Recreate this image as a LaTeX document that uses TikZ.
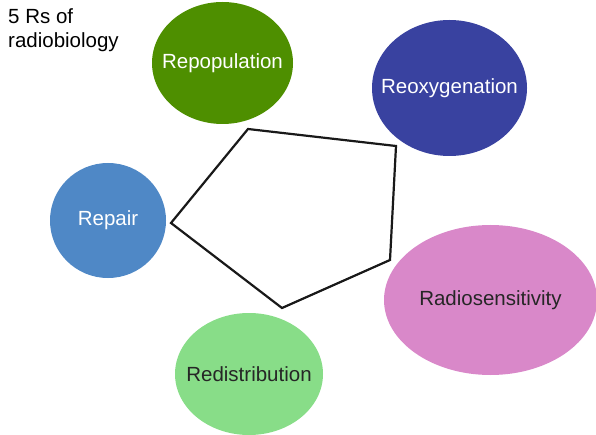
\documentclass[tikz,border=0pt]{standalone}
\usepackage{fontspec}
\setmainfont{Liberation Sans}
\usetikzlibrary{shapes.geometric}
\definecolor{cgreen}{HTML}{4E8F00}
\definecolor{cblue}{HTML}{3942A0}
\definecolor{clblue}{HTML}{4F88C6}
\definecolor{cpink}{HTML}{D988C9}
\definecolor{clgreen}{HTML}{88DD88}
\tikzset{
  blob/.style={ellipse, inner sep=0pt},
  blobtext/.style={inner sep=0pt, font=\fontsize{20.5}{24}\selectfont},
}
\begin{document}
\begin{tikzpicture}[x=1pt,y=-1pt]
\useasboundingbox (0,0) rectangle (596,435);
\node[anchor=north west, align=left, inner sep=0pt, font=\fontsize{20.5}{24}\selectfont] (title) at (8,8) {5 Rs of\\radiobiology};
\node[blob, fill=cgreen, minimum width=141pt, minimum height=122pt] (repop) at (222.5,63) {};
\node[blobtext, text=white] (repopt) at (repop) {Repopulation};
\node[blob, fill=cblue, minimum width=155pt, minimum height=136pt] (reox) at (449.5,88) {};
\node[blobtext, text=white] (reoxt) at (reox) {Reoxygenation};
\node[blob, fill=clblue, minimum width=116pt, minimum height=115pt] (repair) at (108,220.5) {};
\node[blobtext, text=white] (repairt) at (repair) {Repair};
\node[blob, fill=cpink, minimum width=213pt, minimum height=150pt] (radio) at (490.5,300) {};
\node[blobtext, text=black!85] (radiot) at (radio) {Radiosensitivity};
\node[blob, fill=clgreen, minimum width=148pt, minimum height=122pt] (redis) at (249,374) {};
\node[blobtext, text=black!85] (redist) at (redis) {Redistribution};
\coordinate (p1) at (248,129);
\coordinate (p2) at (396,146);
\coordinate (p3) at (390,260);
\coordinate (p4) at (282,308);
\coordinate (p5) at (171,223);
\draw[line width=2.2pt, black!90] (p1) -- (p2) -- (p3) -- (p4) -- (p5) -- cycle;
\end{tikzpicture}
\end{document}
